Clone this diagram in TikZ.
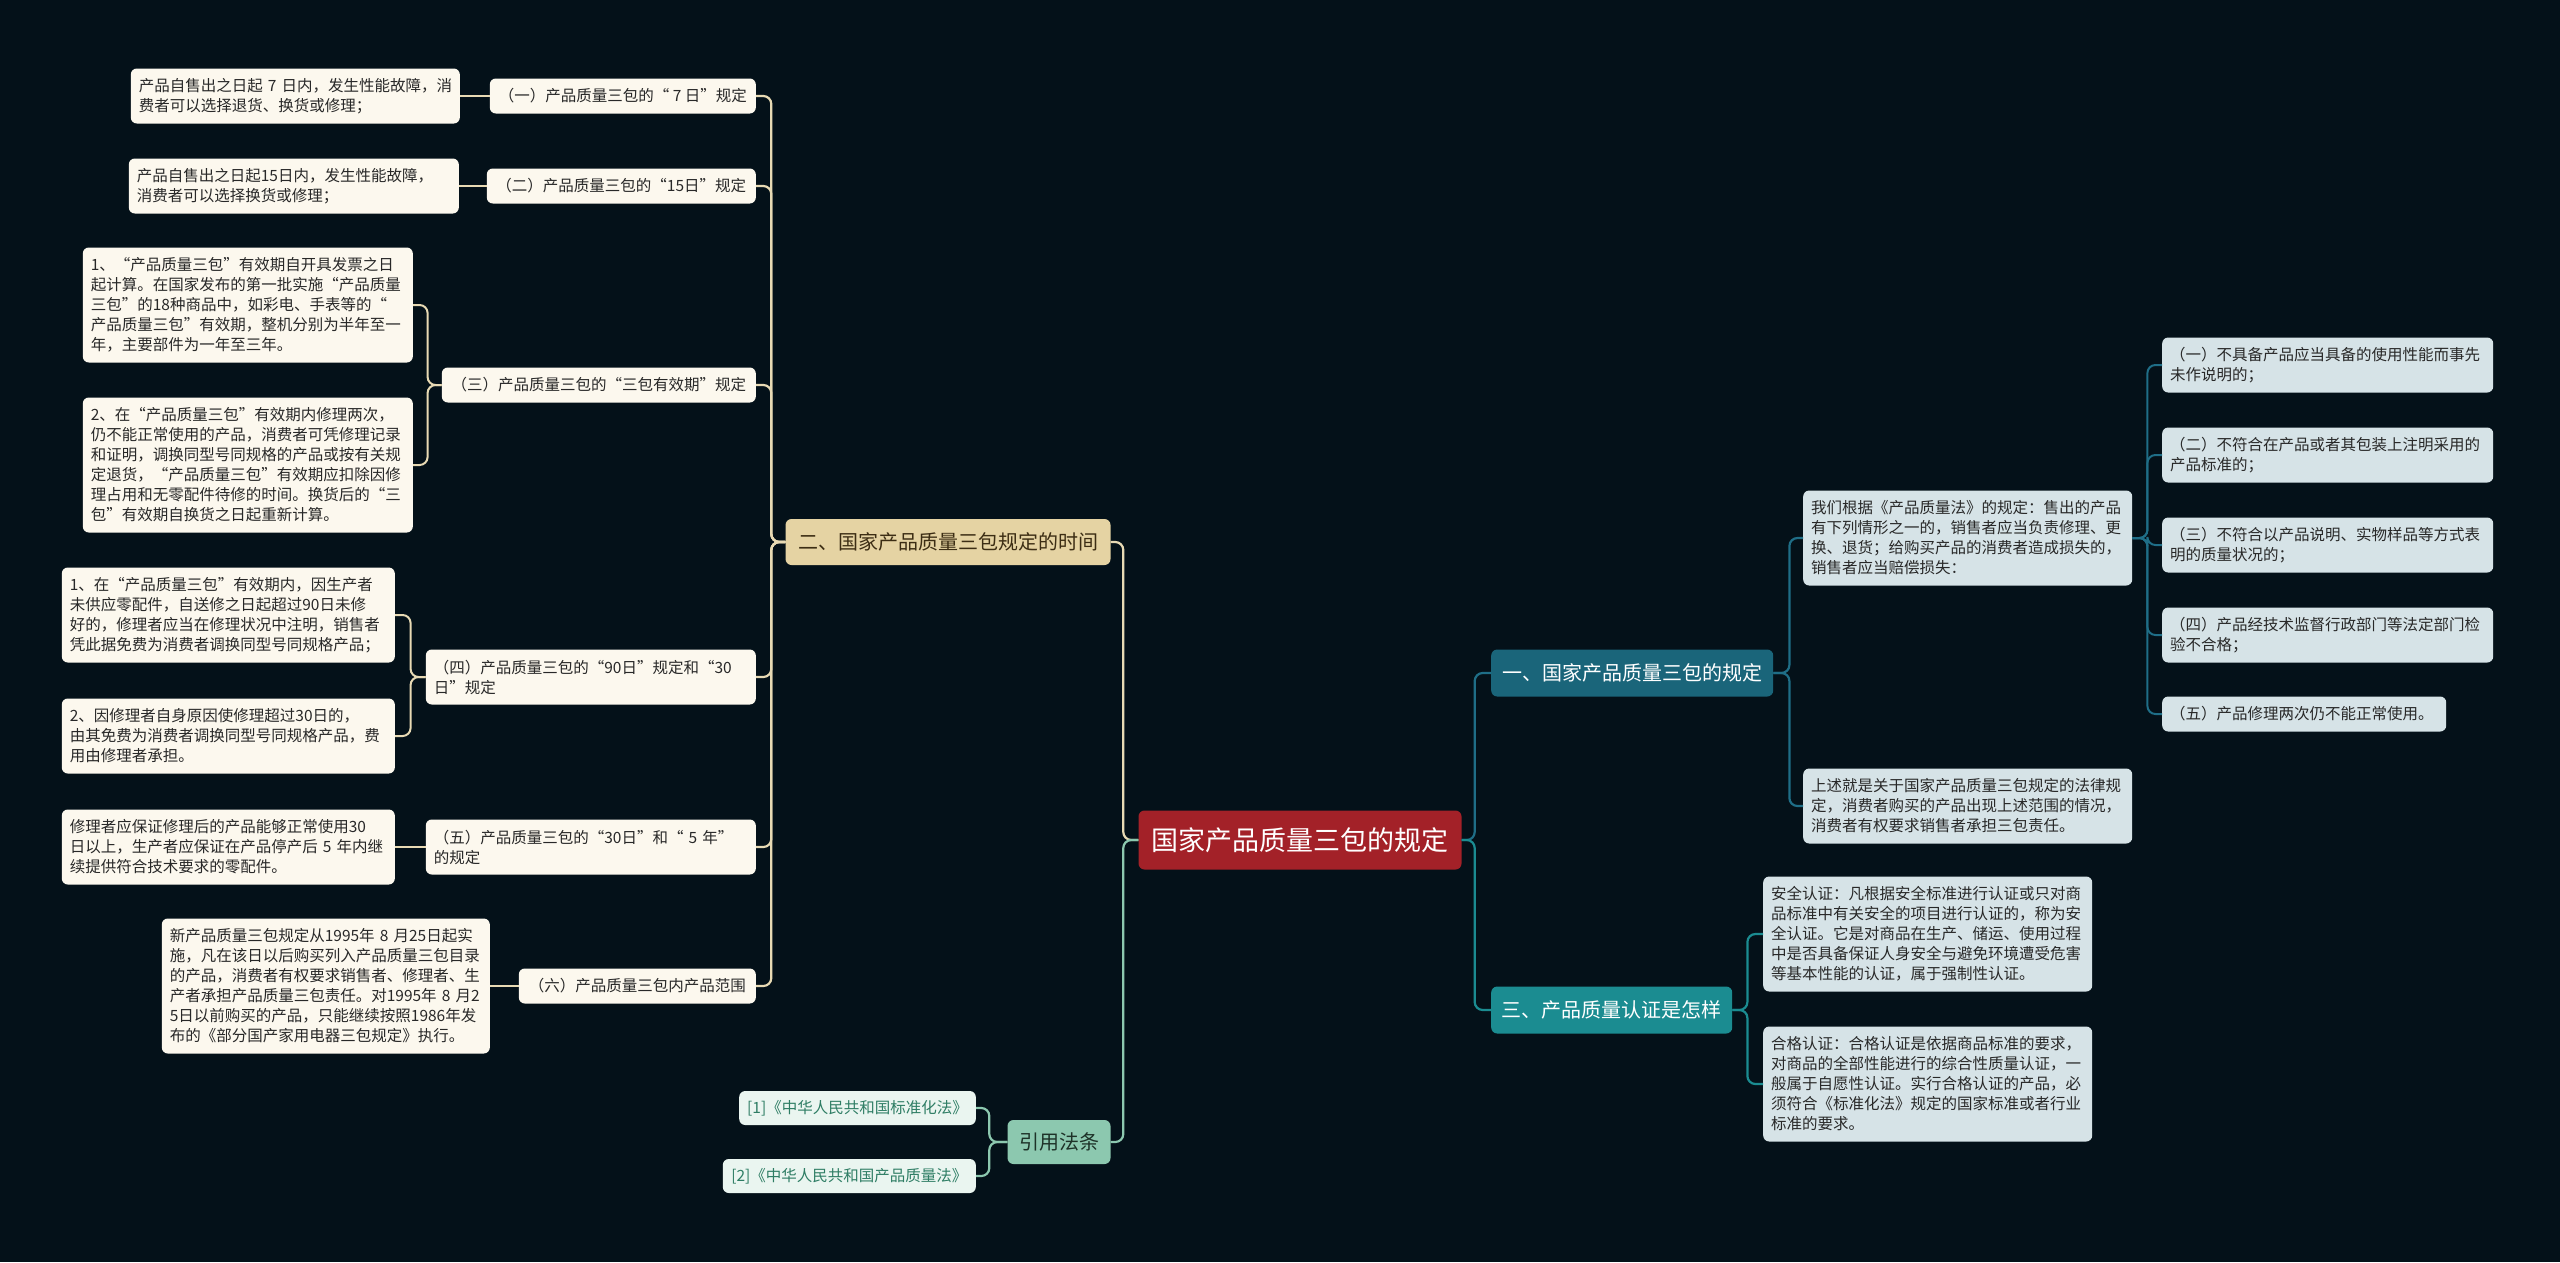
\documentclass[tikz,border=0pt]{standalone}
\usepackage{fontspec}
\setmainfont{Noto Sans CJK SC}
\usetikzlibrary{positioning}
\definecolor{bgcol}{RGB}{4,17,25}
\definecolor{rootfill}{RGB}{163,33,40}
\definecolor{onefill}{RGB}{26,101,122}
\definecolor{threefill}{RGB}{27,140,145}
\definecolor{twofill}{RGB}{229,211,163}
\definecolor{twotext}{RGB}{60,45,20}
\definecolor{citefill}{RGB}{140,200,175}
\definecolor{citetext}{RGB}{30,50,40}
\definecolor{leaflfill}{RGB}{252,248,238}
\definecolor{leafrfill}{RGB}{214,227,231}
\definecolor{leafcfill}{RGB}{234,245,240}
\definecolor{leafctext}{RGB}{46,125,100}
\definecolor{leaftext}{RGB}{40,40,40}
\definecolor{linebeige}{RGB}{232,218,180}
\definecolor{lineone}{RGB}{31,110,135}
\definecolor{linethree}{RGB}{27,140,145}
\definecolor{linecite}{RGB}{140,200,175}
\tikzstyle{base} = [rectangle, rounded corners=6pt, inner xsep=8pt, inner ysep=0pt, font=\fontsize{15.5}{20}\selectfont]
\tikzstyle{rootbox} = [rectangle, rounded corners=6pt, fill=rootfill, text=white, minimum width=323pt, minimum height=59pt, font=\fontsize{27}{32}\selectfont]
\tikzstyle{branch} = [rectangle, rounded corners=6pt, minimum height=47pt, font=\fontsize{20}{24}\selectfont]
\tikzstyle{leafl} = [base, fill=leaflfill, text=leaftext, align=left]
\tikzstyle{leafr} = [base, fill=leafrfill, text=leaftext, align=left]
\tikzstyle{midl} = [base, fill=leaflfill, text=leaftext, minimum height=35pt]
\tikzstyle{citebox} = [base, fill=leafcfill, text=leafctext, minimum height=34pt]
\tikzstyle{link} = [line width=2.2pt, rounded corners=8pt]
\tikzset{nlines/.style={minimum height=20*#1+15}}

\begin{document}
\begin{tikzpicture}[x=1pt, y=-1pt]
	\fill[bgcol] (0,0) rectangle (2560,1262);
	\useasboundingbox (0,0) rectangle (2560,1262);

	\node (root) [rootbox] at (1300,840) {国家产品质量三包的规定};

	\node (one) [branch, fill=onefill, text=white, minimum width=282pt, anchor=west] at (1491,673) {一、国家产品质量三包的规定};
	\node (two) [branch, fill=twofill, text=twotext, minimum width=325pt, minimum height=46pt] at (948,542) {二、国家产品质量三包规定的时间};
	\node (three) [branch, fill=threefill, text=white, minimum width=241pt, anchor=west] at (1491,1010) {三、产品质量认证是怎样};
	\node (cite) [branch, fill=citefill, text=citetext, minimum width=103pt, minimum height=44pt] at (1059,1142) {引用法条};

	% left side
	\node (m1) [midl, minimum width=266pt, anchor=east] at (756,96) {（一）产品质量三包的“~7~日”规定};
	\node (m2) [midl, minimum width=269pt, anchor=east] at (756,186) {（二）产品质量三包的“15日”规定};
	\node (m3) [midl, minimum width=314pt, anchor=east] at (756,385) {（三）产品质量三包的“三包有效期”规定};
	\node (m4) [midl, align=left, text width=314pt, nlines=2, anchor=east] at (756,677) {（四）产品质量三包的“90日”规定和“30\\日”规定};
	\node (m5) [midl, align=left, text width=314pt, nlines=2, anchor=east] at (756,847) {（五）产品质量三包的“30日”和“~5~年”\\的规定};
	\node (m6) [midl, minimum width=237pt, anchor=east] at (756,986) {（六）产品质量三包内产品范围};

	\node (l1) [leafl, text width=313pt, nlines=2, anchor=east] at (460,96) {产品自售出之日起~7~日内，发生性能故障，消\\费者可以选择退货、换货或修理；};
	\node (l2) [leafl, text width=314pt, nlines=2, anchor=east] at (459,186) {产品自售出之日起15日内，发生性能故障，\\消费者可以选择换货或修理；};
	\node (l3a) [leafl, text width=314pt, nlines=5, anchor=east] at (413,305) {1、“产品质量三包”有效期自开具发票之日\\起计算。在国家发布的第一批实施“产品质量\\三包”的18种商品中，如彩电、手表等的“\\产品质量三包”有效期，整机分别为半年至一\\年，主要部件为一年至三年。};
	\node (l3b) [leafl, text width=314pt, nlines=6, anchor=east] at (413,465) {2、在“产品质量三包”有效期内修理两次，\\仍不能正常使用的产品，消费者可凭修理记录\\和证明，调换同型号同规格的产品或按有关规\\定退货，“产品质量三包”有效期应扣除因修\\理占用和无零配件待修的时间。换货后的“三\\包”有效期自换货之日起重新计算。};
	\node (l4a) [leafl, text width=317pt, nlines=4, anchor=east] at (395,615) {1、在“产品质量三包”有效期内，因生产者\\未供应零配件，自送修之日起超过90日未修\\好的，修理者应当在修理状况中注明，销售者\\凭此据免费为消费者调换同型号同规格产品；};
	\node (l4b) [leafl, text width=317pt, nlines=3, anchor=east] at (395,736) {2、因修理者自身原因使修理超过30日的，\\由其免费为消费者调换同型号同规格产品，费\\用由修理者承担。};
	\node (l5) [leafl, text width=317pt, nlines=3, anchor=east] at (395,847) {修理者应保证修理后的产品能够正常使用30\\日以上，生产者应保证在产品停产后~5~年内继\\续提供符合技术要求的零配件。};
	\node (l6) [leafl, text width=312pt, nlines=6, anchor=east] at (490,986) {新产品质量三包规定从1995年~8~月25日起实\\施，凡在该日以后购买列入产品质量三包目录\\的产品，消费者有权要求销售者、修理者、生\\产者承担产品质量三包责任。对1995年~8~月2\\5日以前购买的产品，只能继续按照1986年发\\布的《部分国产家用电器三包规定》执行。};

	\node (c1) [citebox, minimum width=236pt, anchor=east] at (976,1108) {[1]《中华人民共和国标准化法》};
	\node (c2) [citebox, minimum width=253pt, anchor=east] at (976,1176) {[2]《中华人民共和国产品质量法》};

	% right side
	\node (r1) [leafr, text width=313pt, nlines=4, anchor=west] at (1803,538) {我们根据《产品质量法》的规定：售出的产品\\有下列情形之一的，销售者应当负责修理、更\\换、退货；给购买产品的消费者造成损失的，\\销售者应当赔偿损失：};
	\node (r2) [leafr, text width=313pt, nlines=3, anchor=west] at (1803,806) {上述就是关于国家产品质量三包规定的法律规\\定，消费者购买的产品出现上述范围的情况，\\消费者有权要求销售者承担三包责任。};

	\node (s1) [leafr, text width=315pt, nlines=2, anchor=west] at (2162,365) {（一）不具备产品应当具备的使用性能而事先\\未作说明的；};
	\node (s2) [leafr, text width=315pt, nlines=2, anchor=west] at (2162,455) {（二）不符合在产品或者其包装上注明采用的\\产品标准的；};
	\node (s3) [leafr, text width=315pt, nlines=2, anchor=west] at (2162,545) {（三）不符合以产品说明、实物样品等方式表\\明的质量状况的；};
	\node (s4) [leafr, text width=315pt, nlines=2, anchor=west] at (2162,635) {（四）产品经技术监督行政部门等法定部门检\\验不合格；};
	\node (s5) [leafr, text width=268pt, nlines=1, anchor=west] at (2162,714) {（五）产品修理两次仍不能正常使用。};

	\node (t1) [leafr, text width=313pt, nlines=5, anchor=west] at (1763,934) {安全认证：凡根据安全标准进行认证或只对商\\品标准中有关安全的项目进行认证的，称为安\\全认证。它是对商品在生产、储运、使用过程\\中是否具备保证人身安全与避免环境遭受危害\\等基本性能的认证，属于强制性认证。};
	\node (t2) [leafr, text width=313pt, nlines=5, anchor=west] at (1763,1084) {合格认证：合格认证是依据商品标准的要求，\\对商品的全部性能进行的综合性质量认证，一\\般属于自愿性认证。实行合格认证的产品，必\\须符合《标准化法》规定的国家标准或者行业\\标准的要求。};

	% connectors
	\draw[link, linebeige] (root.west) -- ++(-15,0) |- (two.east);
	\draw[link, linecite] (root.west) -- ++(-15,0) |- (cite.east);
	\draw[link, lineone] (root.east) -- ++(13,0) |- (one.west);
	\draw[link, linethree] (root.east) -- ++(13,0) |- (three.west);

	\draw[link, linebeige] (two.west) -- ++(-14,0) |- (m1.east);
	\draw[link, linebeige] (two.west) -- ++(-14,0) |- (m2.east);
	\draw[link, linebeige] (two.west) -- ++(-14,0) |- (m3.east);
	\draw[link, linebeige] (two.west) -- ++(-14,0) |- (m4.east);
	\draw[link, linebeige] (two.west) -- ++(-14,0) |- (m5.east);
	\draw[link, linebeige] (two.west) -- ++(-14,0) |- (m6.east);

	\draw[link, linebeige, line width=2pt] (m1.west) -- (l1.east);
	\draw[link, linebeige, line width=2pt] (m2.west) -- (l2.east);
	\draw[link, linebeige, line width=2pt] (m3.west) -- ++(-14,0) |- (l3a.east);
	\draw[link, linebeige, line width=2pt] (m3.west) -- ++(-14,0) |- (l3b.east);
	\draw[link, linebeige, line width=2pt] (m4.west) -- ++(-15,0) |- (l4a.east);
	\draw[link, linebeige, line width=2pt] (m4.west) -- ++(-15,0) |- (l4b.east);
	\draw[link, linebeige, line width=2pt] (m5.west) -- (l5.east);
	\draw[link, linebeige, line width=2pt] (m6.west) -- (l6.east);

	\draw[link, linecite] (cite.west) -- ++(-18,0) |- (c1.east);
	\draw[link, linecite] (cite.west) -- ++(-18,0) |- (c2.east);

	\draw[link, lineone] (one.east) -- ++(16,0) |- (r1.west);
	\draw[link, lineone] (one.east) -- ++(16,0) |- (r2.west);
	\draw[link, lineone, line width=2pt] (r1.east) -- ++(15,0) |- (s1.west);
	\draw[link, lineone, line width=2pt] (r1.east) -- ++(15,0) |- (s2.west);
	\draw[link, lineone, line width=2pt] (r1.east) -- ++(15,0) |- (s3.west);
	\draw[link, lineone, line width=2pt] (r1.east) -- ++(15,0) |- (s4.west);
	\draw[link, lineone, line width=2pt] (r1.east) -- ++(15,0) |- (s5.west);

	\draw[link, linethree] (three.east) -- ++(15,0) |- (t1.west);
	\draw[link, linethree] (three.east) -- ++(15,0) |- (t2.west);

\end{tikzpicture}
\end{document}
